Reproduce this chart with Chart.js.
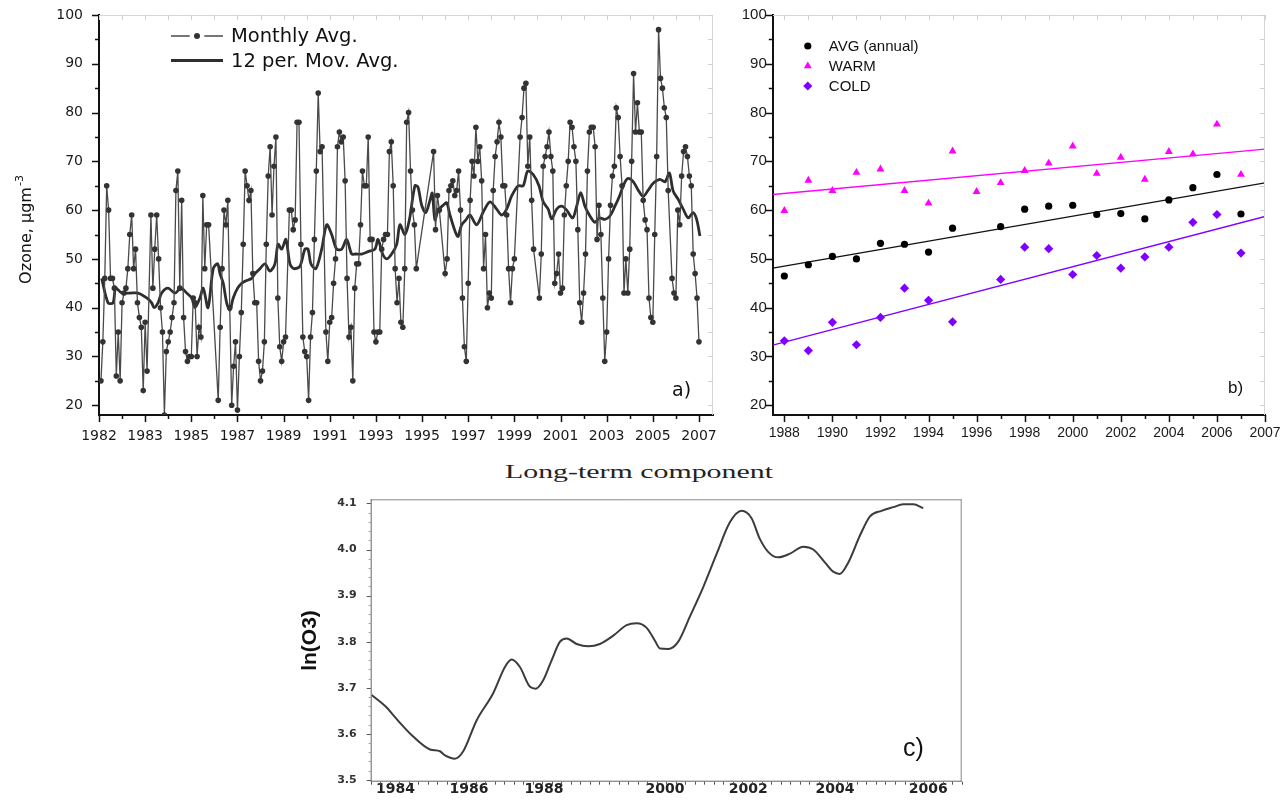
<!DOCTYPE html>
<html>
<head>
<meta charset="utf-8">
<title>Ozone</title>
<script src="https://cdn.jsdelivr.net/npm/chart.js@4.4.1/dist/chart.umd.min.js"></script>
<style>
  html, body { margin: 0; padding: 0; background: #fff; }
  body { width: 1288px; height: 804px; position: relative; overflow: hidden; }
  .panel { position: absolute; }
  .tag { position: absolute; color: #111; line-height: 1; white-space: nowrap; }
</style>
</head>
<body>
<div class="panel" style="left:0;top:0;width:720px;height:450px"><canvas id="chartA"></canvas></div>
<div class="panel" style="left:720px;top:0;width:568px;height:450px"><canvas id="chartB"></canvas></div>
<div class="panel" style="left:280px;top:490px;width:700px;height:314px"><canvas id="chartC"></canvas></div>

<div class="tag" style="left:672px;top:378px;font:19px 'DejaVu Sans'">a)</div>
<div class="tag" style="left:1228px;top:378px;font:17px 'Liberation Sans'">b)</div>
<div class="tag" style="left:903px;top:733px;font:25px 'Liberation Sans'">c)</div>
<div class="tag" style="left:639px;top:462px;font:18px 'Liberation Serif';transform:translateX(-50%) scaleX(1.66);color:#222">Long-term component</div>

<script>
// ---- a) monthly ozone, month index 0 = start of axis, null = no data ----
const monthly = [
  null, 25, 33, 46, 65, 60, 46, 46, 44, 26, 35, 25,
  41, 43, 44, 48, 55, 59, 48, 52, 41, 38, 36, 23,
  37, 27, null, 59, 44, 52, 59, 50, 40, 35, 18, 31,
  33, 35, 38, 41, 64, 68, 44, 62, 38, 31, 29, 30,
  30, 42, 41, 30, 36, 34, 63, 48, 57, 57, null, null,
  null, null, 21, 36, 48, 60, 57, 62, 40, 20, 28, 33,
  19, 30, 39, 53, 68, 65, 62, 64, 47, 41, 41, 29,
  25, 27, 33, 53, 67, 73, 59, 69, 75, 42, 32, 29,
  33, 34, null, 60, 60, 56, 58, 78, 78, 53, 34, 31,
  30, 21, 34, 39, 54, 68, 84, 72, 73, null, 35, 29,
  37, 38, 45, 50, 73, 76, 74, 75, 66, 46, 34, 36,
  25, 44, 49, 49, 57, 68, 65, 65, 75, 54, 54, 35,
  33, 35, 35, 52, 54, 55, 55, 72, 74, 65, 48, 41,
  46, 37, 36, 48, 78, 80, 68, 60, 57, 48, null, null,
  null, null, null, null, null, null, 72, 56, 63, 60, null, null,
  47, 50, 64, 65, 66, 63, 64, 68, 60, 42, 32, 29,
  45, 62, 70, 67, 77, 70, 73, 66, 48, 55, 40, 43,
  42, 64, 71, 74, 78, 75, 65, 65, 59, 48, 41, 48,
  50, null, null, 75, 79, 85, 86, 69, 75, 62, 52, null,
  null, 42, 51, 69, 71, 73, 76, 71, 68, 45, 47, 51,
  43, 44, 59, 65, 70, 78, 77, 73, 70, 56, 41, 37,
  43, 51, 68, 76, 77, 77, 73, 54, 61, 55, 42, 29,
  35, 50, 61, 67, 69, 81, 79, 71, 65, 43, 50, 43,
  52, 70, 88, 76, 82, 76, 76, 62, 58, 56, 42, 38,
  37, 55, 71, 97, 87, 85, 81, 79, 64, null, 46, 43,
  42, 60, 57, 67, 72, 73, 71, 67, 65, 51, 47, 42,
  33
];

// 12 period moving average, read at these month positions
const maMonth = [
  1.4, 4.7, 7.3, 8.7, 11.8, 16.1, 20.3, 24.8, 27.4, 28.6, 30.7, 32.6, 35.9, 39.5, 42.6,
  45.6, 48.2, 49.9, 52.5, 54.2, 56.7, 59.4, 61.7, 62.9, 64.6, 66.4, 68.1, 69.8, 72.1,
  74.2, 76.4, 79.4, 81.1, 83.7, 86.3, 88.9, 91.5, 93.1, 95, 97.2, 99.3, 101.4, 104.5,
  107.1, 108.7, 110.2, 112.8, 115.8, 118.4, 121, 123.6, 126.2, 128.8, 131.4, 133.6,
  136.6, 140, 143.5, 145.1, 147.5, 149.6, 152.2, 154.8, 156.5, 159.1, 161.4, 164.3,
  165.9, 167.8, 169.9, 172.1, 173.3, 174.7, 176.4, 179, 180.8, 182.5, 186.5, 188.6,
  190.8, 192.9, 196.4, 199.8, 203.3, 206.8, 209.4, 212, 214.6, 218, 220.6, 222.9,
  225.8, 228.8, 231, 233.6, 235.4, 238, 240.6, 243.2, 246.3, 248.4, 250.5, 252.7,
  255.3, 257.9, 260.2, 263.1, 265.7, 268.3, 270.6, 273.2, 275.2, 277.9, 280.4, 283,
  285.6, 288.2, 291.7, 294.3, 296.6, 298.6, 301.2, 303.8, 306.4, 309, 310.8, 312.5
];
const maValue = [
  46, 41, 41, 44, 43, 43, 43, 42, 41, 40, 41, 43, 44, 43, 44,
  43, 42, 40, 42, 44, 40, 48, 49, 47, 45, 41, 39.5, 42, 44,
  45, 45.5, 46, 47, 48, 49, 47.5, 49, 53, 52, 54, 49, 48, 48.5,
  52, 52, 49, 48, 52, 57, 55, 52, 52, 54, 51, 51,
  51, 51.5, 52, 54, 51, 50, 51, 53, 57, 55, 58, 65,
  64.7, 61, 59.5, 62, 63.5, 58, 60, 61, 61.5, 59, 54.6, 57,
  58, 59, 57, 59.6, 61.7, 60.2, 59, 60.2, 62.9, 65, 65, 68,
  67.3, 65, 61.7, 60.2, 58.2, 60.2, 60.8, 60, 58.4, 60.8, 63.6, 60.8,
  58.8, 57.5, 58.4, 58.1, 58.8, 60.8, 62.8, 65.5, 66.5, 65.8, 64.1, 62.8,
  64.1, 65.5, 66.3, 65.8, 67.6, 63.9, 62.2, 60.2, 58.4, 59.5, 58.1, 54.7
];
const aTickLabels = ['1982', '1983', '1985', '1987', '1989', '1991', '1993',
                     '1995', '1997', '1999', '2001', '2003', '2005', '2007'];
const aMonthsPerTick = 24;
const aMaxMonth = 319.3;

// ---- b) annual and seasonal averages ----
const years = [1988, 1989, 1990, 1991, 1992, 1993, 1994, 1995, 1996, 1997,
               1998, 1999, 2000, 2001, 2002, 2003, 2004, 2005, 2006, 2007];
const avgAnnual = [46.5, 48.8, 50.5, 50.0, 53.2, 53.0, 51.4, 56.3, null, 56.6,
                   60.2, 60.8, 61.0, 59.1, 59.3, 58.2, 62.1, 64.6, 67.3, 59.2];
const warm = [59.9, 66.1, 64.0, 67.7, 68.4, 64.0, 61.4, 72.1, 63.8, 65.6,
              68.1, 69.6, 73.1, 67.5, 70.8, 66.3, 72.0, 71.5, 77.6, 67.3];
const cold = [33.2, 31.2, 37.0, 32.4, 38.0, 44.0, 41.5, 37.1, null, 45.8,
              52.4, 52.1, 46.8, 50.7, 48.1, 50.4, 52.4, 57.5, 59.1, 51.2];
// axis span in years; the last axis tick carries the label '2007'
const bRange = [1987.52, 2008];
const bTickYears = [1988, 1990, 1992, 1994, 1996, 1998, 2000, 2002, 2004, 2006, 2008];
const bTickText = ['1988', '1990', '1992', '1994', '1996', '1998', '2000', '2002', '2004', '2006', '2007'];
// fitted trend lines, value at each end of the axis
const avgTrend = [48.1, 65.6];
const warmTrend = [63.2, 72.5];
const coldTrend = [32.3, 58.7];

// ---- c) long-term component ----
const cPos = [0.5, 7.9, 12.0, 21.0, 29.3, 34.2, 36.7, 41.6, 45.7, 52.3, 60.5, 66.3, 69.6,
              73.7, 78.7, 81.6, 85.2, 89.4, 93.5, 96.8, 101.7, 107.5, 113.2, 119.8, 126.4,
              131.4, 136.3, 140.4, 142.9, 147.0, 151.9, 157.7, 164.2, 170.9, 177.4, 183.2,
              188.1, 192.2, 196.3, 201.3, 207.1, 213.6, 218.6, 224.3, 228.4, 231.7, 235.9,
              241.7, 246.6, 252.3, 258.1, 263.0, 268.0, 272.9];
const lnO3 = [3.684, 3.657, 3.636, 3.594, 3.566, 3.562, 3.553, 3.546, 3.562, 3.629, 3.688,
              3.745, 3.761, 3.745, 3.702, 3.698, 3.716, 3.760, 3.800, 3.807, 3.795, 3.790,
              3.795, 3.813, 3.836, 3.840, 3.830, 3.802, 3.785, 3.784, 3.800, 3.855, 3.918,
              3.991, 4.059, 4.084, 4.068, 4.023, 3.995, 3.983, 3.991, 4.006, 4.000, 3.972,
              3.952, 3.947, 3.972, 4.031, 4.072, 4.084, 4.092, 4.098, 4.098, 4.090];
const cTickPos = [12.2, 48.5, 85.6, 145.3, 186.5, 229.3, 275.4];
const cTickText = ['1984', '1986', '1988', '2000', '2002', '2004', '2006'];
const cYTicks = [3.5, 3.6, 3.7, 3.8, 3.9, 4.0, 4.1];
const cMax = 291.9;

Chart.defaults.animation = false;
Chart.defaults.font.family = "'DejaVu Sans', sans-serif";
Chart.defaults.color = '#1a1a1a';

const range = (a, b, step) => { const out = []; for (let v = a; v <= b + 1e-9; v += step) out.push(+v.toFixed(4)); return out; };

// frame lines and outward/inward tick marks drawn from the scales
const frameTicks = {
  id: 'frameTicks',
  afterDatasetsDraw(chart, args, o) {
    const { ctx, chartArea: a } = chart;
    ctx.save();
    (o.frame || []).forEach(f => {
      ctx.strokeStyle = f.color; ctx.lineWidth = f.width;
      ctx.beginPath();
      if (f.side === 'top') { ctx.moveTo(a.left, a.top + 0.5); ctx.lineTo(a.right, a.top + 0.5); }
      if (f.side === 'right') { ctx.moveTo(a.right - 0.5, a.top); ctx.lineTo(a.right - 0.5, a.bottom); }
      if (f.side === 'left') { ctx.moveTo(a.left + 0.5, a.top); ctx.lineTo(a.left + 0.5, a.bottom); }
      if (f.side === 'bottom') { ctx.moveTo(a.left, a.bottom - 0.5); ctx.lineTo(a.right, a.bottom - 0.5); }
      ctx.stroke();
    });
    (o.sets || []).forEach(s => {
      const sc = chart.scales[s.axis];
      ctx.strokeStyle = s.color; ctx.lineWidth = s.width || 1;
      ctx.beginPath();
      s.values.forEach(v => {
        const p = Math.round(sc.getPixelForValue(v)) + 0.5;
        if (s.side === 'bottom') { ctx.moveTo(p, a.bottom); ctx.lineTo(p, a.bottom + s.len); }
        if (s.side === 'top') { ctx.moveTo(p, a.top); ctx.lineTo(p, a.top - s.len); }
        if (s.side === 'left') { ctx.moveTo(a.left, p); ctx.lineTo(a.left - s.len, p); }
        if (s.side === 'right') { ctx.moveTo(a.right, p); ctx.lineTo(a.right + s.len, p); }
      });
      ctx.stroke();
    });
    ctx.restore();
  }
};

// stacked legend placed inside the plot area
const innerLegend = {
  id: 'innerLegend',
  afterDraw(chart, args, o) {
    if (!o.items) return;
    const { ctx, chartArea: a } = chart;
    ctx.save();
    ctx.font = o.font;
    ctx.textBaseline = 'middle';
    o.items.forEach((it, i) => {
      const ds = chart.data.datasets[it.dataset];
      const y = a.top + o.y + i * o.row;
      const x0 = a.left + o.x;
      ctx.strokeStyle = ds.borderColor; ctx.fillStyle = ds.pointBackgroundColor || ds.borderColor;
      if (it.kind === 'lineDot') {
        ctx.lineWidth = ds.borderWidth;
        ctx.beginPath();
        ctx.moveTo(x0, y); ctx.lineTo(x0 + o.sample * 0.36, y);
        ctx.moveTo(x0 + o.sample * 0.64, y); ctx.lineTo(x0 + o.sample, y);
        ctx.stroke();
        ctx.beginPath(); ctx.arc(x0 + o.sample / 2, y, 3, 0, Math.PI * 2); ctx.fill();
      } else if (it.kind === 'line') {
        ctx.lineWidth = ds.borderWidth;
        ctx.beginPath(); ctx.moveTo(x0, y); ctx.lineTo(x0 + o.sample, y); ctx.stroke();
      } else {
        ctx.fillStyle = ds.pointBackgroundColor;
        ctx.strokeStyle = ds.pointBackgroundColor;
        Chart.helpers.drawPoint(ctx, { pointStyle: ds.pointStyle, radius: ds.pointRadius, rotation: 0, borderWidth: 0 }, x0 + o.sample / 2, y);
      }
      ctx.fillStyle = o.color;
      ctx.fillText(it.text, x0 + o.sample + o.gap, y + 1);
    });
    ctx.restore();
  }
};

// rotated axis title with a superscript part
const sideTitle = {
  id: 'sideTitle',
  afterDraw(chart, args, o) {
    if (!o.text) return;
    const { ctx } = chart;
    ctx.save();
    ctx.translate(o.x, o.y);
    ctx.rotate(-Math.PI / 2);
    ctx.fillStyle = o.color;
    ctx.textBaseline = 'alphabetic';
    ctx.font = o.font;
    const w1 = ctx.measureText(o.text).width;
    ctx.font = o.supFont;
    const w2 = ctx.measureText(o.sup).width;
    const start = -(w1 + w2) / 2;
    ctx.font = o.font;
    ctx.fillText(o.text, start, o.base);
    ctx.font = o.supFont;
    ctx.fillText(o.sup, start + w1 + 1, o.base - o.raise);
    ctx.restore();
  }
};

Chart.register(frameTicks, innerLegend, sideTitle);

// fixed axis boxes, without the extra room Chart.js keeps for edge labels
const fixWidth = w => s => { s.width = w; s.paddingTop = 0; s.paddingBottom = 0; };
const fixHeight = h => s => { s.height = h; s.paddingLeft = 0; s.paddingRight = 0; };

// ---------- panel a ----------
const aMajor = aTickLabels.map((_, i) => i * aMonthsPerTick);
const aMinor = aMajor.slice(0, -1).map(v => v + aMonthsPerTick / 2);
const yMajor = range(20, 100, 10);
const yMinor = range(25, 95, 10);

new Chart(document.getElementById('chartA'), {
  type: 'line',
  data: {
    datasets: [
      {
        label: 'Monthly Avg.',
        data: monthly.map((v, i) => ({ x: i, y: v })),
        borderColor: '#4a4a4a',
        borderWidth: 1.3,
        pointRadius: 2.8,
        pointBackgroundColor: '#333',
        pointBorderWidth: 0,
        spanGaps: true,
        tension: 0
      },
      {
        label: '12 per. Mov. Avg.',
        data: maMonth.map((m, i) => ({ x: m, y: maValue[i] })),
        borderColor: '#2e2e2e',
        borderWidth: 2.8,
        pointRadius: 0,
        tension: 0.3
      }
    ]
  },
  options: {
    responsive: true,
    maintainAspectRatio: false,
    layout: { padding: { left: 0, top: 15, right: 7, bottom: 0 } },
    plugins: {
      legend: { display: false },
      tooltip: { enabled: false },
      innerLegend: {
        font: "19.5px 'DejaVu Sans'", color: '#111', x: 72, y: 21, row: 24.5, sample: 52, gap: 8,
        items: [{ dataset: 0, text: 'Monthly Avg.', kind: 'lineDot' },
                { dataset: 1, text: '12 per. Mov. Avg.', kind: 'line' }]
      },
      sideTitle: {
        text: 'Ozone, \u03bcgm', sup: '-3', x: 31, y: 230, base: 0, raise: 8,
        font: "16px 'DejaVu Sans'", supFont: "11px 'DejaVu Sans'", color: '#111'
      },
      frameTicks: {
        frame: [{ side: 'top', color: '#d6d6d6', width: 1 }, { side: 'right', color: '#d6d6d6', width: 1 }],
        sets: [
          { axis: 'x', side: 'bottom', values: aMajor, len: 7, color: '#111', width: 1.5 },
          { axis: 'x', side: 'bottom', values: aMinor, len: 4, color: '#111', width: 1.5 },
          { axis: 'y', side: 'left', values: yMajor, len: 7, color: '#111', width: 1.5 },
          { axis: 'y', side: 'left', values: yMinor, len: 4, color: '#111', width: 1.5 },
          { axis: 'x', side: 'top', values: aMajor.concat(aMinor), len: -5, color: '#d0d0d0' },
          { axis: 'y', side: 'right', values: yMajor.concat(yMinor), len: -5, color: '#d0d0d0' }
        ]
      }
    },
    scales: {
      x: {
        type: 'linear', min: 0, max: aMaxMonth,
        afterFit: fixHeight(35),
        afterBuildTicks: s => { s.ticks = aMajor.map(v => ({ value: v })); },
        grid: { display: false, drawTicks: false },
        border: { display: true, color: '#111', width: 2 },
        ticks: {
          padding: 13, maxRotation: 0, autoSkip: false,
          font: { size: 14, family: "'DejaVu Sans'" }, color: '#1a1a1a',
          callback: v => aTickLabels[Math.round(v / aMonthsPerTick)]
        }
      },
      y: {
        min: 18, max: 100,
        afterFit: fixWidth(99),
        afterBuildTicks: s => { s.ticks = yMajor.map(v => ({ value: v })); },
        grid: { display: false, drawTicks: false },
        border: { display: true, color: '#111', width: 2 },
        ticks: { padding: 16, font: { size: 14, family: "'DejaVu Sans'" }, color: '#1a1a1a' }
      }
    }
  }
});

// ---------- panel b ----------
const bMinor = range(1989, 2007, 2);
const pts = arr => years.map((y, i) => ({ x: y, y: arr[i] })).filter(p => p.y !== null);
const ends = arr => bRange.map((x, i) => ({ x, y: arr[i] }));

new Chart(document.getElementById('chartB'), {
  type: 'scatter',
  data: {
    datasets: [
      { label: 'AVG (annual)', data: pts(avgAnnual), pointStyle: 'circle', pointRadius: 3.6,
        pointBackgroundColor: '#000', borderColor: '#000', pointBorderWidth: 0 },
      { label: 'WARM', data: pts(warm), pointStyle: 'triangle', pointRadius: 4.6,
        pointBackgroundColor: '#ff00ff', borderColor: '#ff00ff', pointBorderWidth: 0 },
      { label: 'COLD', data: pts(cold), pointStyle: 'rectRot', pointRadius: 4.6,
        pointBackgroundColor: '#8000ff', borderColor: '#8000ff', pointBorderWidth: 0 },
      { type: 'line', data: ends(avgTrend), borderColor: '#111', borderWidth: 1.3, pointRadius: 0 },
      { type: 'line', data: ends(warmTrend), borderColor: '#ff00ff', borderWidth: 1.3, pointRadius: 0 },
      { type: 'line', data: ends(coldTrend), borderColor: '#8000ff', borderWidth: 1.3, pointRadius: 0 }
    ]
  },
  options: {
    responsive: true,
    maintainAspectRatio: false,
    layout: { padding: { left: 0, top: 15, right: 23, bottom: 0 } },
    plugins: {
      legend: { display: false },
      tooltip: { enabled: false },
      innerLegend: {
        font: "15px 'Liberation Sans'", color: '#111', x: 27, y: 31, row: 20, sample: 16, gap: 13,
        items: [{ dataset: 0, text: 'AVG (annual)' }, { dataset: 1, text: 'WARM' }, { dataset: 2, text: 'COLD' }]
      },
      frameTicks: {
        frame: [{ side: 'top', color: '#d6d6d6', width: 1 }, { side: 'right', color: '#d6d6d6', width: 1 }],
        sets: [
          { axis: 'x', side: 'bottom', values: bTickYears, len: 7, color: '#111', width: 1.5 },
          { axis: 'x', side: 'bottom', values: bMinor, len: 4, color: '#111', width: 1.5 },
          { axis: 'y', side: 'left', values: yMajor, len: 7, color: '#111', width: 1.5 },
          { axis: 'y', side: 'left', values: yMinor, len: 4, color: '#111', width: 1.5 },
          { axis: 'x', side: 'top', values: bTickYears.concat(bMinor), len: -5, color: '#d0d0d0' },
          { axis: 'y', side: 'right', values: yMajor.concat(yMinor), len: -5, color: '#d0d0d0' }
        ]
      }
    },
    scales: {
      x: {
        type: 'linear', min: bRange[0], max: bRange[1],
        afterFit: fixHeight(35),
        afterBuildTicks: s => { s.ticks = bTickYears.map(v => ({ value: v })); },
        grid: { display: false, drawTicks: false },
        border: { display: true, color: '#111', width: 2 },
        ticks: { padding: 10, maxRotation: 0, autoSkip: false, font: { size: 14, family: "'Liberation Sans'" },
                 color: '#1a1a1a', callback: (v, i) => bTickText[i] }
      },
      y: {
        min: 18, max: 100,
        afterFit: fixWidth(52.8),
        afterBuildTicks: s => { s.ticks = yMajor.map(v => ({ value: v })); },
        grid: { display: false, drawTicks: false },
        border: { display: true, color: '#111', width: 2 },
        ticks: { padding: 6, font: { size: 15, family: "'Liberation Sans'" }, color: '#1a1a1a' }
      }
    }
  }
});

// ---------- panel c ----------
const cMinor = range(0, cMax, cMax / 62);
const cYMinor = range(3.5, 4.1, 0.02);

new Chart(document.getElementById('chartC'), {
  type: 'line',
  data: {
    datasets: [{
      data: cPos.map((p, i) => ({ x: p, y: lnO3[i] })),
      borderColor: '#3c3c3c', borderWidth: 2, pointRadius: 0,
      cubicInterpolationMode: 'monotone'
    }]
  },
  options: {
    responsive: true,
    maintainAspectRatio: false,
    layout: { padding: { left: 0, top: 9.3, right: 18.3, bottom: 0 } },
    plugins: {
      legend: { display: false },
      tooltip: { enabled: false },
      frameTicks: {
        frame: [{ side: 'top', color: '#888', width: 1 }, { side: 'right', color: '#888', width: 1 },
                { side: 'left', color: '#666', width: 1 }, { side: 'bottom', color: '#666', width: 1 }],
        sets: [
          { axis: 'x', side: 'bottom', values: cMinor, len: 3, color: '#555' },
          { axis: 'y', side: 'left', values: cYMinor, len: 2, color: '#999' },
          { axis: 'y', side: 'left', values: cYTicks, len: 4, color: '#555' }
        ]
      }
    },
    scales: {
      x: {
        type: 'linear', min: 0, max: cMax,
        afterFit: fixHeight(22.3),
        afterBuildTicks: s => { s.ticks = cTickPos.map(v => ({ value: v })); },
        grid: { display: false, drawTicks: false },
        border: { display: false },
        ticks: { padding: 1, maxRotation: 0, autoSkip: false,
                 font: { size: 14, weight: 'bold', family: "'DejaVu Sans'", lineHeight: 1 },
                 color: '#222', callback: (v, i) => cTickText[i] }
      },
      y: {
        min: 3.496, max: 4.109,
        afterFit: fixWidth(90.7),
        afterBuildTicks: s => { s.ticks = cYTicks.map(v => ({ value: v })); },
        grid: { display: false, drawTicks: false },
        border: { display: false },
        title: { display: true, text: 'ln(O3)', color: '#111', padding: { top: 18, bottom: 0 },
                 font: { size: 21, weight: 'bold', family: "'Liberation Sans'" } },
        ticks: { padding: 14, font: { size: 11, weight: 'bold', family: "'DejaVu Sans'" }, color: '#333',
                 callback: v => v.toFixed(1) }
      }
    }
  }
});
</script>
</body>
</html>
